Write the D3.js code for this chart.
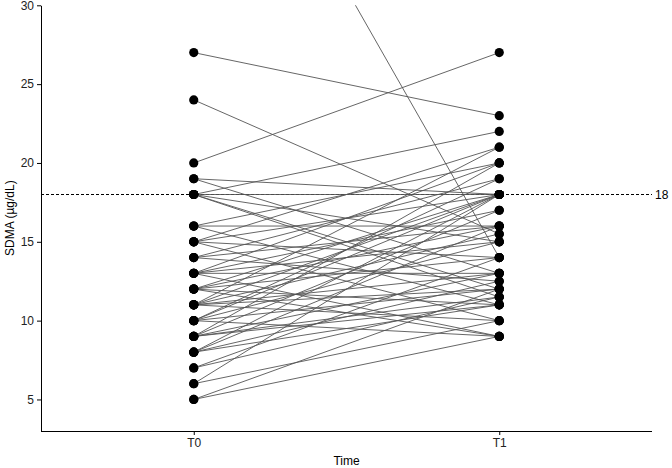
<!DOCTYPE html>
<html>
<head>
<meta charset="utf-8">
<script src="https://cdn.jsdelivr.net/npm/d3@7"></script>
<style>
  body { margin: 0; background: #fff; }
  #chart { width: 672px; height: 468px; }
  text { font-family: "Liberation Sans", Arial, sans-serif; }
</style>
</head>
<body>
<div id="chart"></div>
<script>
// Time points
const timeLabels = ["T0", "T1"];

// SDMA per subject at T0 and at T1 (same order = same subject)
const t0Values = [48, 27, 24, 20, 19, 19, 18, 18, 18, 18, 18, 16, 16, 16, 15, 15, 15, 15,
    14, 14, 14, 13, 13, 13, 13, 13, 12, 12, 12, 12, 12, 11, 11, 11, 11, 11, 11,
    10, 10, 10, 10, 10, 9, 9, 9, 9, 9, 8, 8, 8, 8, 7, 7, 6, 6, 5, 5];
const t1Values = [14, 23, 15.5, 27, 18, 13, 22, 18, 15, 12, 11.5, 20, 16, 11, 21, 18, 14, 10,
    19, 16, 12.5, 20, 17, 15, 13, 9, 18, 16, 14, 11, 9, 21, 18, 15.5, 13, 12, 10,
    19, 18, 15, 12, 9, 20, 17, 13, 11.5, 11, 18, 16, 12.5, 11, 14, 11.5, 18, 10, 12, 9];

const yTicks = [5, 10, 15, 20, 25, 30];
const threshold = 18;

const width = 672;
const height = 468;
const margin = {top: 5, left: 41, right: 20, bottom: 37};

const svg = d3.select("#chart")
    .append("svg")
    .attr("width", width)
    .attr("height", height);

// Scales
const xScale = d3.scalePoint()
    .domain(timeLabels)
    .range([margin.left, width - margin.right])
    .padding(0.5);

const yScale = d3.scaleLinear()
    .domain([3, 30])
    .range([height - margin.bottom, margin.top + 0.3]);

// clip so the off-scale subject is cut at 30
svg.append("clipPath")
    .attr("id", "plot")
    .append("rect")
    .attr("x", margin.left)
    .attr("y", yScale(30))
    .attr("width", width - margin.left - margin.right)
    .attr("height", yScale(3) - yScale(30));

// Threshold line
svg.append("line")
    .attr("x1", margin.left)
    .attr("x2", width - margin.right)
    .attr("y1", yScale(threshold))
    .attr("y2", yScale(threshold))
    .attr("stroke", "#000")
    .attr("stroke-width", 1)
    .attr("stroke-dasharray", "3,2");

svg.append("text")
    .attr("x", width - margin.right + 3)
    .attr("y", yScale(threshold))
    .attr("dy", "0.35em")
    .attr("font-size", 12)
    .text(threshold);

// Subject lines
const pairs = t0Values.map(function(v, i) { return [v, t1Values[i]]; });

svg.append("g")
    .attr("clip-path", "url(#plot)")
    .selectAll("line")
    .data(pairs)
    .enter()
    .append("line")
        .attr("x1", xScale("T0"))
        .attr("x2", xScale("T1"))
        .attr("y1", function(d) { return yScale(d[0]); })
        .attr("y2", function(d) { return yScale(d[1]); })
        .attr("stroke", "#555")
        .attr("stroke-width", 0.9);

// Dots
const dots = svg.append("g").attr("clip-path", "url(#plot)");
dots.selectAll(".d0")
    .data(t0Values)
    .enter()
    .append("circle")
        .attr("class", "d0")
        .attr("cx", xScale("T0"))
        .attr("cy", function(d) { return yScale(d); })
        .attr("r", 4.6)
        .attr("fill", "#000");
dots.selectAll(".d1")
    .data(t1Values)
    .enter()
    .append("circle")
        .attr("class", "d1")
        .attr("cx", xScale("T1"))
        .attr("cy", function(d) { return yScale(d); })
        .attr("r", 4.6)
        .attr("fill", "#000");

// Axes
const xAxis = svg.append("g")
    .attr("transform", `translate(0,${height - margin.bottom})`)
    .call(d3.axisBottom(xScale).tickSize(4).tickSizeOuter(0));
xAxis.select(".domain").attr("d", `M${margin.left},0.5H${width - margin.right}`);

const yAxis = svg.append("g")
    .attr("transform", `translate(${margin.left},0)`)
    .call(d3.axisLeft(yScale).tickValues(yTicks).tickSize(4).tickSizeOuter(0));

svg.selectAll(".tick text")
    .attr("font-family", "Liberation Sans, Arial, sans-serif")
    .attr("font-size", 12)
    .attr("fill", "#222");

svg.append("text")
    .attr("x", (margin.left + width - margin.right) / 2)
    .attr("y", height - 3)
    .attr("text-anchor", "middle")
    .attr("font-size", 12)
    .text("Time");

svg.append("text")
    .attr("x", -(yScale(3) + yScale(30)) / 2)
    .attr("y", 14)
    .attr("text-anchor", "middle")
    .attr("transform", "rotate(-90)")
    .attr("font-size", 12)
    .text("SDMA (µg/dL)");
</script>
</body>
</html>
